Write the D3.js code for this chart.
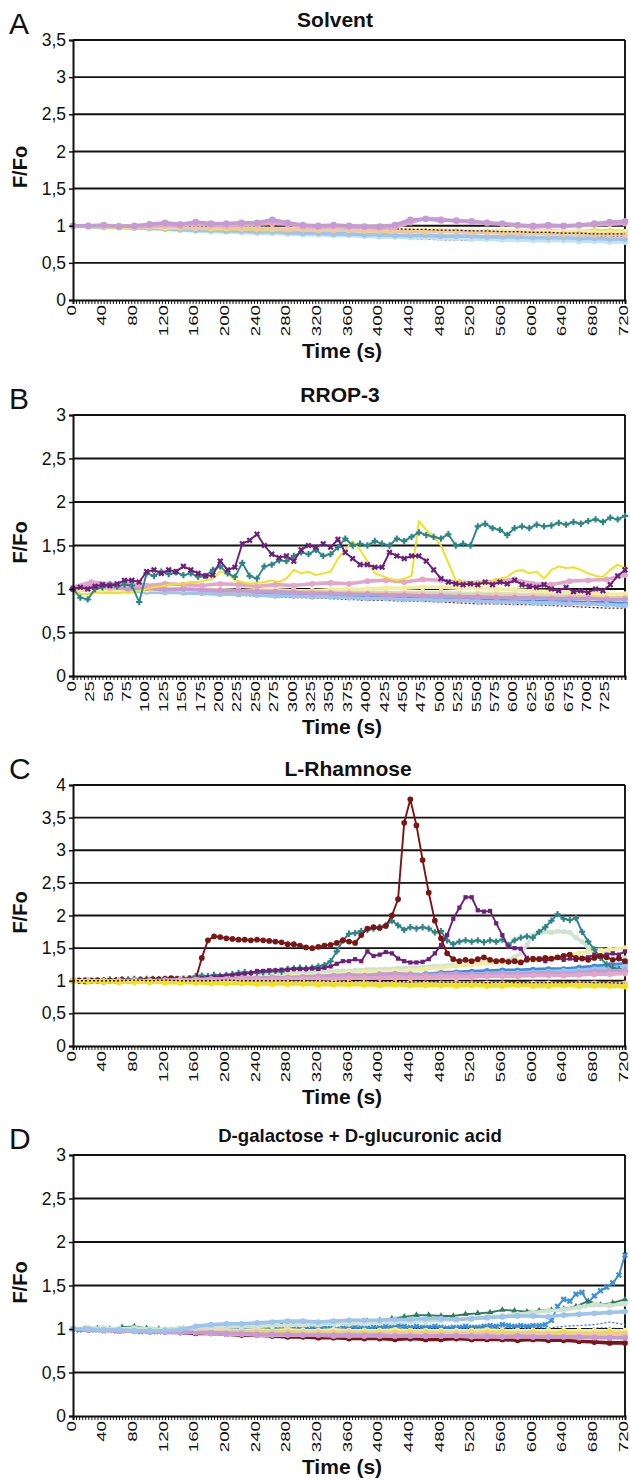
<!DOCTYPE html>
<html>
<head>
<meta charset="utf-8">
<script src="https://cdn.jsdelivr.net/npm/d3@7"></script>
<style>
  body { margin: 0; background: #fff; }
  svg { display: block; }
  text { font-family: "Liberation Sans", Arial, Helvetica, sans-serif; fill: #111; }
</style>
</head>
<body>
<svg id="fig" width="630" height="1481"></svg>
<script>
// ---------- Panel A: Solvent (F/Fo, sampled every 20 s from 0 to 720 s) ----------
const solventLavender = [1.00,1.00,1.01,0.99,1.00,1.02,1.04,1.02,1.05,1.03,1.03,1.04,1.04,1.08,1.04,1.01,1.00,1.01,1.00,0.99,0.99,1.01,1.08,1.09,1.07,1.07,1.06,1.04,1.03,1.01,1.00,1.01,1.00,1.01,1.03,1.05,1.06];
const solventPink     = [1.00,0.99,1.00,1.00,0.99,1.00,1.01,1.00,1.02,1.01,1.00,1.01,1.02,1.03,1.02,0.99,0.98,0.99,0.98,0.98,0.97,0.98,1.04,1.10,1.09,1.06,1.05,1.03,1.02,1.00,0.98,0.99,0.99,1.00,1.01,1.02,1.03];
const solventBlack    = [1.00,1.00,0.99,0.99,0.98,0.99,0.99,0.99,1.00,0.99,0.99,1.00,1.00,1.00,1.00,0.99,0.98,0.99,1.00,0.98,0.97,0.96,0.95,0.95,0.94,0.94,0.93,0.93,0.92,0.92,0.91,0.91,0.90,0.90,0.89,0.89,0.89];
const solventTan      = [1.00,1.00,0.99,0.99,0.98,0.98,0.99,0.98,0.97,0.97,0.97,0.96,0.96,0.96,0.95,0.95,0.94,0.94,0.94,0.93,0.93,0.93,0.92,0.92,0.92,0.92,0.91,0.91,0.90,0.90,0.90,0.89,0.89,0.89,0.88,0.88,0.88];
const solventYellow   = [1.00,0.99,0.99,0.98,0.98,0.98,0.97,0.97,0.97,0.96,0.96,0.96,0.95,0.95,0.95,0.95,0.94,0.94,0.94,0.94,0.93,0.93,0.93,0.92,0.93,0.93,0.92,0.92,0.93,0.92,0.92,0.93,0.92,0.92,0.93,0.93,0.92];
const solventLightBlue= [1.00,0.99,0.98,0.98,0.97,0.97,0.96,0.95,0.94,0.94,0.93,0.93,0.92,0.92,0.91,0.90,0.90,0.89,0.89,0.88,0.88,0.87,0.87,0.87,0.86,0.86,0.86,0.85,0.85,0.85,0.84,0.84,0.84,0.83,0.83,0.82,0.82];
const solventPaleCyan = [1.00,0.99,0.98,0.97,0.97,0.96,0.95,0.94,0.93,0.92,0.92,0.91,0.90,0.90,0.89,0.88,0.88,0.87,0.87,0.86,0.85,0.85,0.84,0.84,0.83,0.83,0.82,0.82,0.81,0.81,0.80,0.80,0.80,0.79,0.79,0.78,0.78];
const solventPurple   = [1.00,0.99,0.98,0.97,0.97,0.96,0.95,0.93,0.93,0.92,0.91,0.91,0.90,0.90,0.89,0.88,0.88,0.87,0.87,0.86,0.85,0.84,0.83,0.82,0.81,0.81,0.80,0.81,0.82,0.82,0.83,0.83,0.84,0.84,0.85,0.85,0.86];
const solventNavy     = [1.00,0.99,0.98,0.97,0.96,0.96,0.95,0.94,0.92,0.92,0.91,0.91,0.90,0.90,0.89,0.89,0.88,0.87,0.87,0.86,0.86,0.85,0.85,0.84,0.84,0.83,0.83,0.82,0.82,0.81,0.81,0.80,0.80,0.80,0.79,0.78,0.78];
const solventTeal     = [1.00,1.00,0.99,0.99,0.98,0.98,0.98,0.97,0.97,0.96,0.96,0.96,0.95,0.95,0.95,0.94,0.94,0.94,0.93,0.93,0.93,0.92,0.92,0.92,0.91,0.91,0.91,0.90,0.90,0.90,0.89,0.89,0.89,0.90,0.91,0.93,0.91];
const solventLightYellow = [1.00,1.00,1.00,0.99,0.99,0.99,0.98,0.98,0.98,0.97,0.97,0.97,0.97,0.96,0.96,0.96,0.95,0.95,0.95,0.95,0.94,0.94,0.94,0.94,0.94,0.93,0.93,0.93,0.93,0.93,0.92,0.92,0.92,0.92,0.91,0.91,0.91];

// ---------- Panel B: RROP-3 (responding cells every 10 s, others every 25 s, 0 to 750 s) ----------
const rropTeal = [1.00,0.90,0.88,1.00,1.02,1.05,1.03,1.05,1.04,0.85,
  1.18,1.15,1.20,1.17,1.19,1.16,1.18,1.14,1.15,1.22,
  1.26,1.18,1.14,1.30,1.15,1.12,1.26,1.28,1.33,1.32,
  1.38,1.42,1.40,1.45,1.38,1.40,1.48,1.58,1.50,1.52,
  1.50,1.55,1.52,1.50,1.58,1.55,1.60,1.65,1.62,1.60,
  1.58,1.63,1.50,1.52,1.50,1.72,1.75,1.70,1.68,1.62,
  1.70,1.72,1.70,1.74,1.72,1.73,1.76,1.74,1.77,1.75,
  1.78,1.80,1.77,1.82,1.80,1.84];
const rropPurple = [1.00,1.02,1.00,1.03,1.05,1.04,1.06,1.10,1.10,1.08,
  1.20,1.22,1.18,1.22,1.20,1.26,1.22,1.18,1.15,1.16,
  1.32,1.22,1.25,1.52,1.56,1.63,1.50,1.40,1.36,1.38,
  1.32,1.45,1.50,1.48,1.52,1.48,1.57,1.42,1.35,1.28,
  1.28,1.25,1.25,1.42,1.38,1.35,1.38,1.38,1.32,1.22,
  1.12,1.08,1.06,1.05,1.06,1.05,1.08,1.05,1.08,1.06,
  1.10,1.05,1.03,1.02,1.05,1.00,0.98,1.02,0.97,0.98,
  0.96,1.00,0.98,1.05,1.15,1.22];
const rropYellow = [0.98,0.95,0.94,0.96,0.95,0.96,0.95,0.96,0.96,0.98,
  1.00,1.02,1.03,1.05,1.06,1.06,1.08,1.08,1.10,1.12,
  1.20,1.18,1.10,1.08,1.06,1.07,1.08,1.10,1.08,1.12,
  1.22,1.18,1.20,1.16,1.18,1.20,1.35,1.45,1.55,1.45,
  1.32,1.18,1.15,1.12,1.10,1.12,1.15,1.78,1.68,1.60,
  1.50,1.30,1.10,1.08,1.06,1.08,1.05,1.10,1.12,1.14,
  1.20,1.22,1.18,1.20,1.12,1.22,1.26,1.24,1.25,1.22,
  1.18,1.15,1.14,1.22,1.28,1.24];
const rropPink        = [1.02,1.08,1.06,1.05,1.04,1.06,1.05,1.04,1.06,1.05,1.03,1.05,1.04,1.06,1.07,1.06,1.09,1.10,1.08,1.11,1.10,1.08,1.07,1.09,1.11,1.06,1.05,1.09,1.10,1.11,1.16];
const rropLavender    = [1.02,1.04,1.03,1.00,1.01,0.99,1.00,0.99,0.98,0.98,0.97,0.97,0.96,0.95,0.95,0.94,0.94,0.93,0.93,0.92,0.92,0.91,0.91,0.90,0.90,0.90,0.89,0.89,0.89,0.88,0.88];
const rropLightYellow = [1.00,0.99,0.98,0.98,0.99,0.99,1.00,0.99,0.98,0.98,0.99,0.99,0.98,0.98,0.99,1.00,1.00,1.01,1.01,1.02,1.02,1.01,1.01,1.00,0.99,0.98,0.97,0.96,0.95,0.94,0.94];
const rropPaleGreen   = [1.00,1.00,0.99,0.99,1.00,1.00,0.99,0.99,0.99,0.98,0.98,0.98,0.98,0.97,0.97,0.97,0.97,0.96,0.96,0.96,0.96,0.95,0.95,0.95,0.94,0.94,0.94,0.93,0.93,0.92,0.92];
const rropBlue        = [1.00,0.99,0.98,0.98,0.97,0.97,0.96,0.96,0.95,0.94,0.94,0.93,0.93,0.92,0.92,0.91,0.90,0.90,0.89,0.89,0.88,0.88,0.87,0.87,0.86,0.86,0.85,0.85,0.84,0.84,0.83];
const rropLightBlue   = [1.00,0.99,0.99,0.98,0.97,0.96,0.96,0.95,0.94,0.94,0.93,0.92,0.92,0.91,0.91,0.90,0.89,0.89,0.88,0.88,0.87,0.87,0.86,0.85,0.85,0.84,0.84,0.83,0.83,0.82,0.81];
const rropDarkRed     = [1.00,0.99,0.98,0.97,0.97,0.96,0.95,0.94,0.94,0.93,0.92,0.91,0.90,0.90,0.89,0.88,0.87,0.87,0.86,0.86,0.85,0.84,0.83,0.83,0.82,0.82,0.81,0.80,0.79,0.78,0.78];
const rropMagenta     = [1.00,1.00,0.99,0.98,0.98,0.97,0.96,0.96,0.95,0.94,0.94,0.93,0.93,0.92,0.92,0.91,0.90,0.90,0.89,0.89,0.88,0.88,0.87,0.87,0.86,0.86,0.85,0.85,0.86,0.84,0.83];
const rropTan         = [1.00,1.02,1.01,1.00,1.01,1.00,1.00,0.99,0.99,0.98,0.98,0.97,0.97,0.97,0.96,0.96,0.95,0.95,0.95,0.94,0.94,0.93,0.93,0.93,0.92,0.92,0.91,0.91,0.91,0.90,0.90];

// ---------- Panel C: L-Rhamnose (responding cells every 8 s, others every 20 s) ----------
const rhaDarkRed = [1.00,1.00,0.99,1.00,1.00,0.99,1.00,1.00,1.01,1.00,
  1.00,1.01,1.01,1.02,1.02,1.03,1.04,1.03,1.02,1.03,
  1.02,1.35,1.62,1.68,1.67,1.65,1.64,1.63,1.63,1.62,
  1.63,1.62,1.61,1.60,1.59,1.56,1.56,1.54,1.51,1.50,
  1.52,1.54,1.55,1.58,1.62,1.60,1.58,1.70,1.80,1.82,
  1.81,1.84,2.00,2.25,3.42,3.78,3.38,2.85,2.35,1.92,
  1.65,1.42,1.33,1.30,1.32,1.30,1.33,1.36,1.32,1.30,
  1.31,1.29,1.30,1.28,1.32,1.34,1.33,1.35,1.34,1.36,
  1.38,1.40,1.35,1.34,1.32,1.35,1.38,1.36,1.32,1.34,
  1.30];
const rhaTeal = [1.00,1.00,1.01,1.00,1.01,1.01,1.02,1.01,1.02,1.02,
  1.03,1.02,1.03,1.03,1.02,1.03,1.02,1.03,1.03,1.04,
  1.07,1.08,1.07,1.09,1.08,1.09,1.10,1.12,1.13,1.12,
  1.12,1.13,1.14,1.15,1.14,1.18,1.19,1.20,1.19,1.20,
  1.22,1.24,1.30,1.45,1.62,1.72,1.73,1.76,1.78,1.80,
  1.82,1.85,1.92,1.85,1.78,1.82,1.80,1.82,1.80,1.74,
  1.76,1.62,1.56,1.60,1.62,1.60,1.62,1.59,1.62,1.60,
  1.63,1.55,1.62,1.66,1.68,1.66,1.75,1.82,1.92,2.02,
  1.95,1.93,1.96,1.75,1.60,1.48,1.35,1.25,1.20,1.18,
  1.15];
const rhaPurple = [1.00,1.00,1.01,1.00,1.01,1.01,1.00,1.01,1.02,1.01,
  1.01,1.02,1.01,1.02,1.02,1.01,1.02,1.02,1.01,1.02,
  1.03,1.04,1.05,1.06,1.07,1.08,1.09,1.10,1.11,1.12,
  1.15,1.15,1.16,1.16,1.17,1.17,1.18,1.18,1.18,1.19,
  1.18,1.20,1.22,1.26,1.30,1.30,1.33,1.30,1.45,1.38,
  1.40,1.44,1.42,1.34,1.30,1.28,1.28,1.29,1.33,1.42,
  1.55,1.70,1.95,2.12,2.28,2.28,2.08,2.06,2.07,1.88,
  1.70,1.52,1.50,1.49,1.35,1.32,1.34,1.30,1.33,1.35,
  1.32,1.34,1.32,1.35,1.36,1.40,1.38,1.40,1.42,1.40,
  1.45];
const rhaPaleGreen = [1.00,1.00,1.00,1.01,1.00,1.01,1.01,1.02,1.01,1.02,
  1.02,1.03,1.02,1.03,1.03,1.04,1.04,1.04,1.05,1.05,
  1.05,1.06,1.06,1.07,1.07,1.07,1.08,1.08,1.09,1.09,
  1.09,1.10,1.10,1.11,1.11,1.11,1.12,1.12,1.13,1.13,
  1.13,1.14,1.14,1.15,1.15,1.15,1.16,1.16,1.17,1.17,
  1.17,1.18,1.18,1.19,1.19,1.20,1.20,1.21,1.21,1.22,
  1.22,1.23,1.24,1.25,1.25,1.26,1.27,1.28,1.28,1.30,
  1.30,1.32,1.36,1.42,1.55,1.70,1.74,1.75,1.74,1.76,
  1.75,1.74,1.66,1.60,1.50,1.47,1.47,1.45,1.42,1.38,
  1.35];
const rhaLightYellow = [1.00,1.00,1.01,1.00,1.01,1.02,1.02,1.03,1.03,1.04,1.05,1.05,1.06,1.07,1.08,1.08,1.09,1.10,1.12,1.13,1.14,1.15,1.16,1.18,1.20,1.23,1.25,1.27,1.28,1.30,1.32,1.35,1.38,1.42,1.45,1.48,1.50];
const rhaBlue        = [1.00,1.00,0.99,1.00,1.00,1.00,1.01,1.01,1.01,1.02,1.02,1.02,1.03,1.03,1.04,1.04,1.05,1.05,1.05,1.06,1.07,1.08,1.09,1.10,1.12,1.13,1.14,1.15,1.16,1.16,1.17,1.18,1.18,1.20,1.22,1.24,1.26];
const rhaLightBlue   = [1.00,1.00,1.00,0.99,1.00,1.00,1.00,1.01,1.01,1.01,1.02,1.02,1.03,1.03,1.04,1.04,1.05,1.05,1.06,1.06,1.07,1.07,1.08,1.08,1.09,1.10,1.10,1.11,1.12,1.12,1.13,1.14,1.15,1.16,1.18,1.20,1.22];
const rhaLavender    = [1.00,1.00,0.99,1.00,1.01,1.00,1.01,1.02,1.02,1.03,1.03,1.04,1.04,1.05,1.05,1.06,1.07,1.08,1.09,1.08,1.10,1.11,1.10,1.09,1.10,1.11,1.10,1.10,1.11,1.10,1.11,1.12,1.11,1.12,1.14,1.15,1.16];
const rhaPink        = [1.00,0.99,0.99,1.00,0.99,1.00,1.00,1.00,1.01,1.01,1.01,1.02,1.02,1.02,1.03,1.03,1.03,1.03,1.04,1.04,1.04,1.05,1.05,1.05,1.06,1.06,1.06,1.07,1.07,1.07,1.08,1.08,1.08,1.09,1.10,1.10,1.11];
const rhaTan         = [1.00,0.99,0.99,0.98,0.99,0.98,0.98,0.98,0.98,0.97,0.98,0.97,0.97,0.98,0.97,0.97,0.97,0.98,0.97,0.97,0.96,0.97,0.97,0.96,0.96,0.97,0.96,0.96,0.96,0.95,0.96,0.96,0.95,0.96,0.96,0.95,0.96];
const rhaYellow      = [1.00,0.99,0.99,0.98,0.98,0.98,0.97,0.97,0.97,0.96,0.96,0.96,0.95,0.95,0.95,0.95,0.94,0.94,0.94,0.94,0.93,0.94,0.93,0.93,0.93,0.92,0.93,0.92,0.92,0.93,0.92,0.92,0.93,0.92,0.92,0.92,0.91];
const rhaBlack       = [1.00,1.00,1.00,1.00,1.01,1.00,1.01,1.00,1.00,1.00,1.01,1.00,1.00,1.00,1.00,1.00,1.00,0.99,0.99,1.00,0.99,0.99,0.98,0.99,0.98,0.98,0.98,0.97,0.98,0.97,0.97,0.97,0.97,0.98,0.97,0.97,0.96];

// ---------- Panel D: D-galactose + D-glucuronic acid ----------
const galBlue = [1.00,0.99,1.00,0.99,0.99,0.98,0.99,0.98,0.98,0.99,
  0.98,0.97,0.98,0.97,0.97,0.98,0.97,0.97,0.97,0.98,
  0.98,0.98,0.99,0.98,0.99,0.99,1.00,0.99,1.00,1.00,
  0.99,1.00,1.00,1.01,1.00,1.00,1.01,1.00,1.00,1.01,
  1.01,1.02,1.01,1.00,1.01,1.02,1.02,1.01,1.01,1.02,
  1.02,1.03,1.02,1.04,1.03,1.02,1.03,1.02,1.02,1.03,
  1.02,1.01,1.02,1.02,1.03,1.02,1.02,1.03,1.04,1.03,
  1.05,1.04,1.03,1.04,1.03,1.04,1.04,1.05,1.10,1.26,
  1.34,1.32,1.40,1.42,1.30,1.38,1.44,1.48,1.53,1.62,
  1.85];
const galGreen = [1.00,1.00,1.01,1.00,1.02,1.03,1.01,1.00,0.99,1.00,1.01,1.02,1.02,1.03,1.03,1.04,1.04,1.05,1.05,1.06,1.06,1.07,1.07,1.08,1.09,1.10,1.12,1.14,1.16,1.16,1.15,1.15,1.17,1.18,1.19,1.22,1.21,1.20,1.21,1.22,1.23,1.26,1.32,1.28,1.30,1.34];
const galLightBlue   = [1.00,1.00,0.99,0.99,0.98,0.98,0.98,0.99,1.03,1.05,1.06,1.06,1.07,1.08,1.09,1.09,1.08,1.09,1.10,1.10,1.10,1.11,1.11,1.12,1.12,1.11,1.12,1.13,1.14,1.15,1.15,1.14,1.16,1.17,1.18,1.19,1.20];
const galPaleGreen   = [1.00,1.01,1.01,1.00,1.01,1.00,1.00,1.01,1.01,1.02,1.02,1.03,1.03,1.04,1.04,1.05,1.05,1.06,1.06,1.07,1.07,1.08,1.09,1.09,1.10,1.11,1.12,1.14,1.15,1.17,1.19,1.21,1.22,1.25,1.28,1.27,1.29];
const galMidBlue     = [1.00,1.00,0.99,0.99,0.99,0.98,0.98,0.98,0.98,0.99,0.99,0.99,1.00,1.00,1.00,1.00,1.01,1.00,1.00,1.00,1.01,1.01,1.02,1.02,1.01,1.01,1.02,1.02,1.01,1.02,1.02,1.01,1.03,1.04,1.05,1.08,1.05];
const galNavy        = [1.00,1.00,0.99,0.99,0.99,0.98,0.98,0.98,0.98,0.98,0.98,0.98,0.98,0.99,0.99,0.99,1.00,1.00,1.00,0.99,0.99,0.99,0.99,0.99,1.00,0.99,0.99,0.99,0.99,0.99,0.99,0.99,0.99,0.99,1.01,1.01,1.00];
const galDarkRed     = [1.00,0.99,0.99,0.98,0.98,0.97,0.97,0.96,0.95,0.95,0.94,0.93,0.93,0.92,0.91,0.91,0.90,0.90,0.89,0.89,0.89,0.88,0.89,0.88,0.88,0.89,0.88,0.88,0.88,0.87,0.88,0.87,0.87,0.86,0.85,0.84,0.84];
const galLavender    = [1.00,0.99,0.99,0.98,0.98,0.97,0.97,0.97,0.96,0.96,0.95,0.95,0.94,0.94,0.94,0.93,0.93,0.93,0.93,0.93,0.93,0.92,0.92,0.92,0.92,0.92,0.92,0.92,0.91,0.92,0.91,0.91,0.91,0.91,0.90,0.90,0.90];
const galPink        = [1.00,0.99,0.98,0.98,0.97,0.97,0.96,0.96,0.96,0.95,0.94,0.94,0.93,0.93,0.93,0.93,0.93,0.92,0.92,0.92,0.92,0.92,0.92,0.92,0.92,0.92,0.91,0.91,0.91,0.91,0.91,0.91,0.91,0.90,0.91,0.90,0.90];
const galTan         = [1.00,1.00,0.99,0.99,0.98,0.98,0.98,0.97,0.97,0.97,0.97,0.97,0.96,0.96,0.96,0.96,0.96,0.96,0.96,0.95,0.95,0.95,0.95,0.95,0.95,0.95,0.95,0.95,0.94,0.94,0.95,0.94,0.94,0.94,0.94,0.94,0.94];
const galYellow      = [1.00,1.00,0.99,0.99,0.99,0.98,0.98,0.98,0.98,0.97,0.97,0.97,0.97,0.97,0.97,0.96,0.96,0.96,0.96,0.96,0.96,0.96,0.96,0.96,0.96,0.95,0.96,0.96,0.96,0.95,0.96,0.95,0.96,0.95,0.95,0.96,0.95];
const galLightYellow = [1.00,1.00,1.00,1.00,0.99,0.99,0.99,0.99,0.99,0.99,0.98,0.98,0.99,0.98,0.99,0.98,0.98,0.99,0.98,0.98,0.98,0.99,0.98,0.98,0.98,0.98,0.98,0.99,0.98,0.98,0.98,0.98,0.98,0.98,0.98,0.98,0.98];

// ---------- colours and line styles ----------
const COL = {
  darkRed: '#7c1616', purple: '#6e1f7c', teal: '#2b8585', yellow: '#efe11a',
  lightYellow: '#f1ee9f', lavender: '#c49bd2', pink: '#e3a6cb', lightBlue: '#9dc4ec',
  blue: '#3a8fdc', midBlue: '#2f78cc', paleGreen: '#cfe3cf', tan: '#f1c89c',
  navy: '#1f2a6e', green: '#2f7c5c', magenta: '#b2336d', paleCyan: '#c3e2f0', black: '#222222'
};
const KIND = {
  band:  { w: 3.6, marker: 'circle', size: 26 },
  major: { w: 1.9 },
  dot:   { w: 1.3, dash: '2 2' }
};
const SYM = { circle: d3.symbolCircle, square: d3.symbolSquare, cross: d3.symbolCross,
              triangle: d3.symbolTriangle, x: d3.symbolCross };

const panels = [
  { letter: 'A', title: 'Solvent', titleX: 335, titleY: 27, titleSize: 21,
    top: 40, bottom: 300, yMax: 3.5, xMax: 720, labelStep: 40, labelMax: 720, minorStep: 4,
    series: [
      { v: solventNavy, step: 20, c: 'navy', kind: 'dot' },
      { v: solventPurple, step: 20, c: 'purple', kind: 'dot' },
      { v: solventPaleCyan, step: 20, c: 'paleCyan', kind: 'band' },
      { v: solventLightBlue, step: 20, c: 'lightBlue', kind: 'band' },
      { v: solventTeal, step: 20, c: 'teal', kind: 'dot' },
      { v: solventYellow, step: 20, c: 'yellow', kind: 'band' },
      { v: solventLightYellow, step: 20, c: 'lightYellow', kind: 'band' },
      { v: solventTan, step: 20, c: 'tan', kind: 'band' },
      { v: solventBlack, step: 20, c: 'black', kind: 'dot' },
      { v: solventPink, step: 20, c: 'pink', kind: 'band' },
      { v: solventLavender, step: 20, c: 'lavender', kind: 'band', size: 34 }
    ] },
  { letter: 'B', title: 'RROP-3', titleX: 340, titleY: 402, titleSize: 21,
    top: 415, bottom: 676, yMax: 3, xMax: 750, labelStep: 25, labelMax: 725, minorStep: 5,
    series: [
      { v: rropDarkRed, step: 25, c: 'darkRed', kind: 'dot' },
      { v: rropMagenta, step: 25, c: 'magenta', kind: 'dot' },
      { v: rropBlue, step: 25, c: 'blue', kind: 'band' },
      { v: rropLightBlue, step: 25, c: 'lightBlue', kind: 'band' },
      { v: rropPaleGreen, step: 25, c: 'paleGreen', kind: 'band' },
      { v: rropLightYellow, step: 25, c: 'lightYellow', kind: 'band' },
      { v: rropTan, step: 25, c: 'tan', kind: 'band' },
      { v: rropLavender, step: 25, c: 'lavender', kind: 'band' },
      { v: rropPink, step: 25, c: 'pink', kind: 'band' },
      { v: rropYellow, step: 10, c: 'yellow', kind: 'major' },
      { v: rropTeal, step: 10, c: 'teal', kind: 'major', marker: 'cross', size: 22 },
      { v: rropPurple, step: 10, c: 'purple', kind: 'major', marker: 'x', size: 24 }
    ] },
  { letter: 'C', title: 'L-Rhamnose', titleX: 348, titleY: 776, titleSize: 21,
    top: 785, bottom: 1046, yMax: 4, xMax: 720, labelStep: 40, labelMax: 720, minorStep: 4,
    series: [
      { v: rhaPaleGreen, step: 8, c: 'paleGreen', kind: 'band', marker: 'square', size: 22 },
      { v: rhaLightYellow, step: 20, c: 'lightYellow', kind: 'band' },
      { v: rhaBlue, step: 20, c: 'blue', kind: 'band' },
      { v: rhaLightBlue, step: 20, c: 'lightBlue', kind: 'band' },
      { v: rhaTeal, step: 8, c: 'teal', kind: 'major', marker: 'cross', size: 22 },
      { v: rhaPurple, step: 8, c: 'purple', kind: 'major', marker: 'square', size: 18 },
      { v: rhaDarkRed, step: 8, c: 'darkRed', kind: 'major', marker: 'circle', size: 26 },
      { v: rhaLavender, step: 20, c: 'lavender', kind: 'band' },
      { v: rhaPink, step: 20, c: 'pink', kind: 'band' },
      { v: rhaTan, step: 20, c: 'tan', kind: 'band' },
      { v: rhaYellow, step: 20, c: 'yellow', kind: 'band' },
      { v: rhaBlack, step: 20, c: 'black', kind: 'dot' }
    ] },
  { letter: 'D', title: 'D-galactose + D-glucuronic acid', titleX: 360, titleY: 1142, titleSize: 18.6,
    top: 1155, bottom: 1416, yMax: 3, xMax: 720, labelStep: 40, labelMax: 720, minorStep: 4,
    series: [
      { v: galNavy, step: 20, c: 'navy', kind: 'dot' },
      { v: galBlue, step: 8, c: 'blue', kind: 'major', marker: 'x', size: 24 },
      { v: galGreen, step: 16, c: 'green', kind: 'major', marker: 'triangle', size: 18 },
      { v: galMidBlue, step: 20, c: 'midBlue', kind: 'dot' },
      { v: galDarkRed, step: 20, c: 'darkRed', kind: 'band' },
      { v: galLightYellow, step: 20, c: 'lightYellow', kind: 'band' },
      { v: galYellow, step: 20, c: 'yellow', kind: 'band' },
      { v: galTan, step: 20, c: 'tan', kind: 'band' },
      { v: galPink, step: 20, c: 'pink', kind: 'band' },
      { v: galLavender, step: 20, c: 'lavender', kind: 'band' },
      { v: galPaleGreen, step: 20, c: 'paleGreen', kind: 'band' },
      { v: galLightBlue, step: 20, c: 'lightBlue', kind: 'band' }
    ] }
];

// ---------- drawing ----------
const svg = d3.select('#fig');
const plotLeft = 73, plotRight = 625;
const commaFmt = v => String(v).replace('.', ',');

panels.forEach(p => {
  const x = d3.scaleLinear().domain([0, p.xMax]).range([plotLeft, plotRight]);
  const y = d3.scaleLinear().domain([0, p.yMax]).range([p.bottom, p.top]);
  const g = svg.append('g');
  const yTicks = d3.range(0, p.yMax + 0.001, 0.5);

  // horizontal gridlines (the top one doubles as the frame)
  g.append('g').selectAll('line').data(yTicks.filter(v => v > 0)).join('line')
    .attr('x1', plotLeft).attr('x2', plotRight)
    .attr('y1', d => y(d)).attr('y2', d => y(d))
    .attr('stroke', '#111').attr('stroke-width', 1.9);
  // right frame edge
  g.append('line').attr('x1', plotRight).attr('x2', plotRight)
    .attr('y1', y(p.yMax)).attr('y2', y(0)).attr('stroke', '#111').attr('stroke-width', 1.9);

  // traces
  const traces = g.append('g');
  p.series.forEach(s => {
    const st = KIND[s.kind];
    const pts = s.v.map((val, i) => [i * s.step, val]);
    const line = d3.line().x(d => x(d[0])).y(d => y(d[1]));
    traces.append('path').datum(pts).attr('d', line)
      .attr('fill', 'none').attr('stroke', COL[s.c])
      .attr('stroke-width', st.w).attr('stroke-linejoin', 'round')
      .attr('stroke-dasharray', st.dash || null);
    const mk = s.marker || st.marker;
    if (mk) {
      const sym = d3.symbol().type(SYM[mk]).size(s.size || st.size);
      traces.append('g').selectAll('path').data(pts).join('path')
        .attr('d', sym)
        .attr('transform', d => `translate(${x(d[0])},${y(d[1])})${mk === 'x' ? ' rotate(45)' : ''}`)
        .attr('fill', COL[s.c]);
    }
  });

  // y axis
  const yAxis = g.append('g').attr('transform', `translate(${plotLeft},0)`)
    .call(d3.axisLeft(y).tickValues(yTicks).tickSize(4).tickPadding(3).tickFormat(commaFmt));
  yAxis.select('.domain').attr('stroke', '#111').attr('stroke-width', 2);
  yAxis.selectAll('.tick line').attr('stroke', '#111').attr('stroke-width', 1.5);
  yAxis.selectAll('.tick text').attr('font-size', 17.5).attr('fill', '#111')
    .style('font-family', '"Liberation Sans", Arial, sans-serif');

  // x axis: dense category ticks
  const xMinor = g.append('g').attr('transform', `translate(0,${p.bottom})`)
    .call(d3.axisBottom(x).tickValues(d3.range(0, p.xMax + 0.001, p.minorStep)).tickSize(4).tickFormat(''));
  xMinor.select('.domain').attr('stroke', '#111').attr('stroke-width', 2);
  xMinor.selectAll('.tick line').attr('stroke', '#111').attr('stroke-width', 1);

  // x axis: rotated labels
  const xLab = g.append('g').attr('transform', `translate(0,${p.bottom})`)
    .call(d3.axisBottom(x).tickValues(d3.range(0, p.labelMax + 0.001, p.labelStep)).tickSize(0).tickFormat(d3.format('d')));
  xLab.select('.domain').remove();
  xLab.selectAll('.tick text')
    .attr('y', 0).attr('dy', null)
    .attr('transform', 'translate(-2.5,5) rotate(-90) scale(1.1,0.76)')
    .attr('text-anchor', 'end').attr('dominant-baseline', 'central')
    .attr('font-size', 17).attr('fill', '#111')
    .style('font-family', '"Liberation Sans", Arial, sans-serif');

  // panel letter, title, axis titles
  g.append('text').attr('x', 9).attr('y', p.top - 6).attr('font-size', 30).text(p.letter);
  g.append('text').attr('x', p.titleX).attr('y', p.titleY).attr('text-anchor', 'middle')
    .attr('font-size', p.titleSize).attr('font-weight', 'bold').text(p.title);
  g.append('text').attr('transform', `translate(27,${(p.top + p.bottom) / 2 - 3}) rotate(-90)`)
    .attr('text-anchor', 'middle').attr('font-size', 20).attr('font-weight', 'bold').text('F/Fo');
  g.append('text').attr('x', 342).attr('y', p.bottom + 58).attr('text-anchor', 'middle')
    .attr('font-size', 21).attr('font-weight', 'bold').text('Time (s)');
});
</script>
</body>
</html>
